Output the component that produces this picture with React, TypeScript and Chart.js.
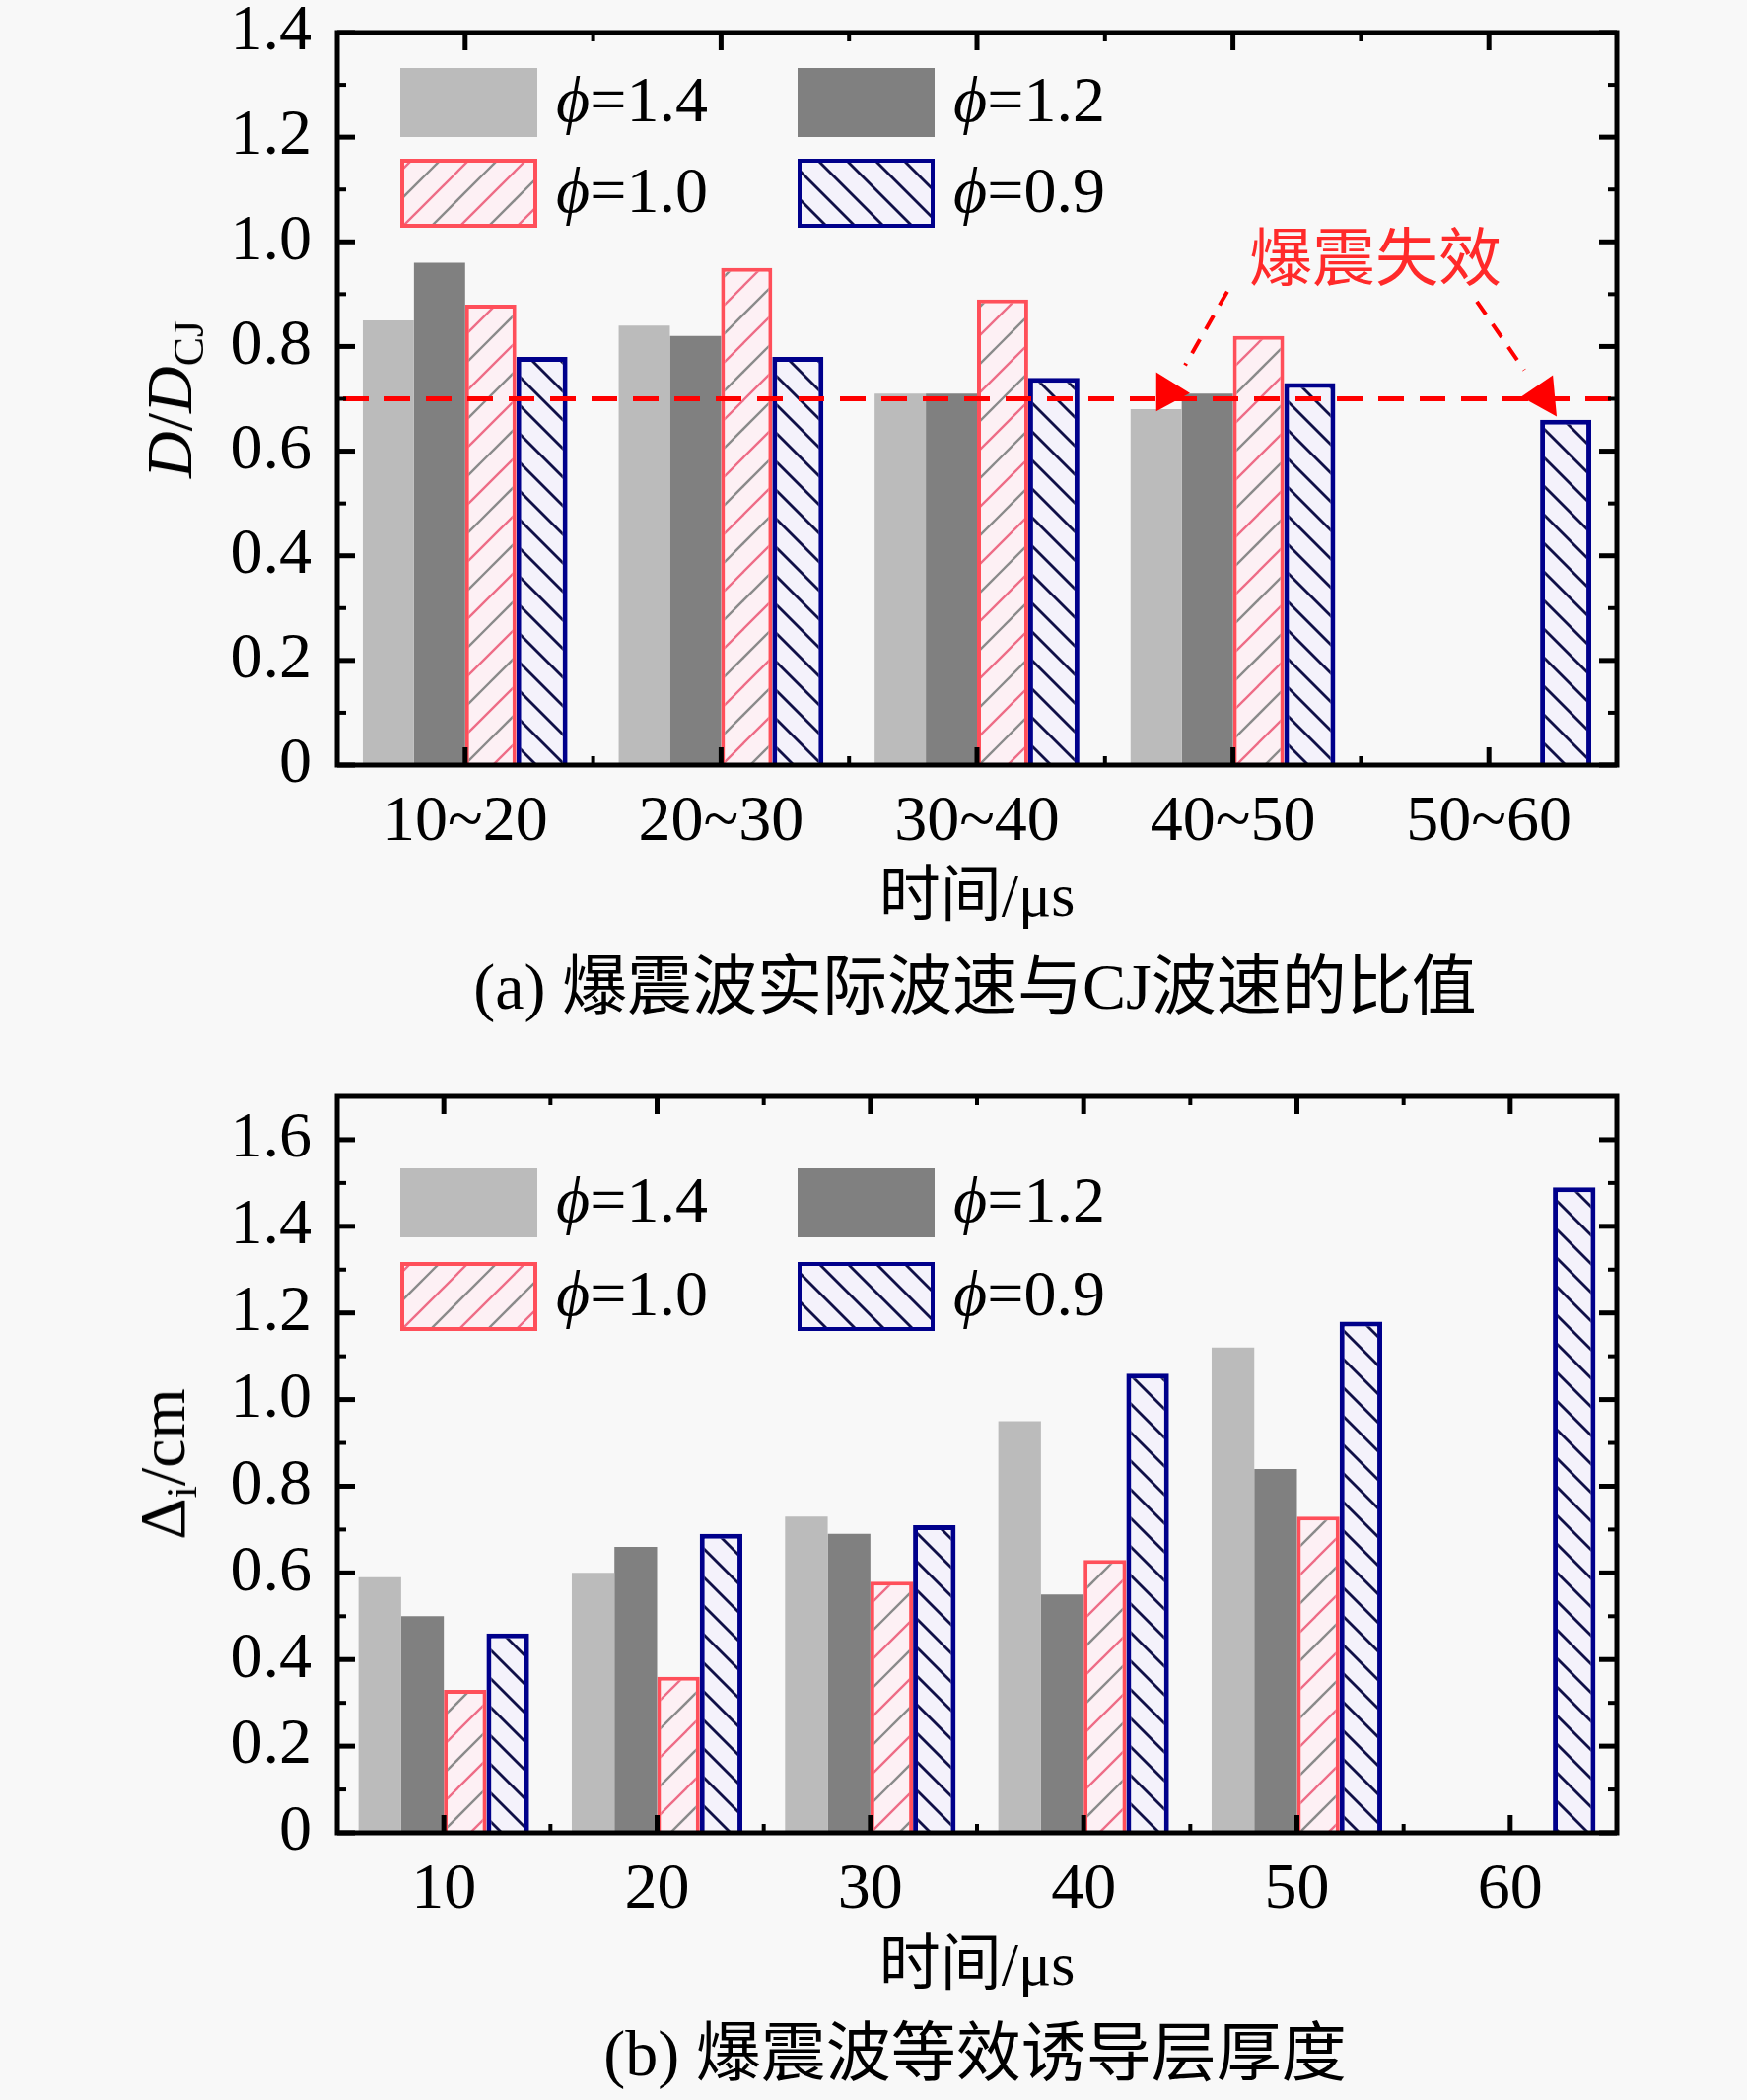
import { useEffect, useRef } from 'react'
import Chart from 'chart.js/auto'

// (a) ratio of detonation wave speed to CJ speed, per time window
const RANGE_LABELS = ['10~20', '20~30', '30~40', '40~50', '50~60']
const RATIO_PHI_14 = [0.85, 0.84, 0.71, 0.68, null]
const RATIO_PHI_12 = [0.96, 0.82, 0.71, 0.71, null]
const RATIO_PHI_10 = [0.88, 0.95, 0.89, 0.82, null]
const RATIO_PHI_09 = [0.78, 0.78, 0.74, 0.73, 0.66]
const RATIO_TICKS = [0, 0.2, 0.4, 0.6, 0.8, 1.0, 1.2, 1.4]
const RATIO_LIMIT = 0.7

// (b) equivalent induction layer thickness
const TIME_LABELS = ['10', '20', '30', '40', '50', '60']
const THICK_PHI_14 = [0.59, 0.6, 0.73, 0.95, 1.12, null]
const THICK_PHI_12 = [0.5, 0.66, 0.69, 0.55, 0.84, null]
const THICK_PHI_10 = [0.33, 0.36, 0.58, 0.63, 0.73, null]
const THICK_PHI_09 = [0.46, 0.69, 0.71, 1.06, 1.18, 1.49]
const THICK_TICKS = [0, 0.2, 0.4, 0.6, 0.8, 1.0, 1.2, 1.4, 1.6]

const PHI_LABELS = ['1.4', '1.2', '1.0', '0.9']

// failure annotation, in (category index, value) coordinates
const FAIL_TEXT = '爆震失效'
const FAIL_TEXT_AT = [3.556, 0.973]
const FAIL_ARROW_LINES = [
  [[2.978, 0.905], [2.813, 0.764]],
  [[3.953, 0.886], [4.138, 0.755]],
]
const FAIL_ARROW_HEADS = [
  [[2.7, 0.751], [2.832, 0.711], [2.7, 0.676]],
  [[4.25, 0.745], [4.126, 0.704], [4.265, 0.666]],
]

const SERIF = '"Liberation Serif", "Noto Sans CJK SC", serif'
const BG = '#f8f8f8'
const LIGHT = '#bbbbbb'
const DARK = '#808080'
const RED = '#ff4f5a'
const NAVY = '#00008b'

Chart.defaults.font.family = '"Liberation Serif", serif'
Chart.defaults.color = '#000'

function makeHatch(dir: number, bg: string, colors: string[], lw: number) {
  const step = 29
  const n = colors.length
  const size = step * n
  const c = document.createElement('canvas')
  c.width = size
  c.height = size
  const g = c.getContext('2d')!
  g.fillStyle = bg
  g.fillRect(0, 0, size, size)
  g.lineWidth = lw
  for (let k = -2 * n; k <= 3 * n; k++) {
    g.strokeStyle = colors[((k % n) + n) % n]
    const c0 = k * step
    g.beginPath()
    if (dir > 0) {
      g.moveTo(-size, c0 + size)
      g.lineTo(2 * size, c0 - 2 * size)
    } else {
      g.moveTo(-size, -size - c0)
      g.lineTo(2 * size, 2 * size - c0)
    }
    g.stroke()
  }
  return g.createPattern(c, 'repeat')!
}

const fmt = (v: any) => (Number(v) === 0 ? '0' : Number(v).toFixed(1))

function decorPlugin(cfg: any) {
  return {
    id: 'decor' + cfg.name,
    afterDatasetsDraw(chart: any) {
      const { ctx, chartArea: a, scales } = chart
      const x = scales.x
      const y = scales.y
      const px = (p: number[]) => [x.getPixelForValue(p[0]), y.getPixelForValue(p[1])]
      ctx.save()

      // threshold line and failure arrows
      if (cfg.limit != null) {
        const ly = y.getPixelForValue(cfg.limit)
        ctx.strokeStyle = '#ff0000'
        ctx.lineWidth = 5
        ctx.setLineDash([26, 16])
        ctx.beginPath()
        ctx.moveTo(a.left + 6, ly)
        ctx.lineTo(a.right - 4, ly)
        ctx.stroke()

        ctx.lineWidth = 4
        ctx.setLineDash([16, 12])
        FAIL_ARROW_LINES.forEach((ln) => {
          const p0 = px(ln[0])
          const p1 = px(ln[1])
          ctx.beginPath()
          ctx.moveTo(p0[0], p0[1])
          ctx.lineTo(p1[0], p1[1])
          ctx.stroke()
        })
        ctx.setLineDash([])
        ctx.fillStyle = '#ff0000'
        FAIL_ARROW_HEADS.forEach((hd) => {
          ctx.beginPath()
          hd.forEach((p, i) => {
            const q = px(p)
            if (i === 0) ctx.moveTo(q[0], q[1])
            else ctx.lineTo(q[0], q[1])
          })
          ctx.closePath()
          ctx.fill()
        })
        const t = px(FAIL_TEXT_AT)
        ctx.font = '64px "Noto Sans CJK SC"'
        ctx.fillStyle = '#ff2a2a'
        ctx.textAlign = 'center'
        ctx.textBaseline = 'middle'
        ctx.fillText(FAIL_TEXT, t[0], t[1])
      }

      // legend
      const swW = 139
      const swH = 70
      const cols = [64, 467]
      const rows = [cfg.legendTop, cfg.legendTop + cfg.legendGap]
      cfg.styles.forEach((st: any, i: number) => {
        const sx = a.left + cols[i % 2]
        const sy = a.top + rows[Math.floor(i / 2)]
        ctx.fillStyle = st.backgroundColor
        ctx.fillRect(sx, sy, swW, swH)
        if (st.borderWidth) {
          ctx.strokeStyle = st.borderColor
          ctx.lineWidth = 4
          ctx.strokeRect(sx + 2, sy + 2, swW - 4, swH - 4)
        }
        const tx = sx + 158
        const ty = sy + swH / 2 + 2
        ctx.fillStyle = '#000'
        ctx.textAlign = 'left'
        ctx.textBaseline = 'middle'
        ctx.font = 'italic 66px "Liberation Serif"'
        ctx.fillText('ϕ', tx, ty)
        const w = ctx.measureText('ϕ').width
        ctx.font = '66px "Liberation Serif"'
        ctx.fillText('=' + PHI_LABELS[i], tx + w, ty)
      })

      // inward ticks on all four sides
      ctx.strokeStyle = '#000'
      const tick = (x0: number, y0: number, x1: number, y1: number, lw: number) => {
        ctx.lineWidth = lw
        ctx.beginPath()
        ctx.moveTo(x0, y0)
        ctx.lineTo(x1, y1)
        ctx.stroke()
      }
      const n = chart.data.labels.length
      for (let i = 0; i < n; i++) {
        const cx = x.getPixelForValue(i)
        tick(cx, a.bottom, cx, a.bottom - 18, 5)
        tick(cx, a.top, cx, a.top + 18, 5)
        if (i > 0) {
          const bx = (x.getPixelForValue(i - 1) + cx) / 2
          tick(bx, a.bottom, bx, a.bottom - 9, 4)
          tick(bx, a.top, bx, a.top + 9, 4)
        }
      }
      cfg.ticks.forEach((v: number, i: number) => {
        const ty = y.getPixelForValue(v)
        tick(a.left, ty, a.left + 18, ty, 5)
        tick(a.right, ty, a.right - 18, ty, 5)
        if (i > 0) {
          const my = y.getPixelForValue((v + cfg.ticks[i - 1]) / 2)
          tick(a.left, my, a.left + 9, my, 4)
          tick(a.right, my, a.right - 9, my, 4)
        }
      })
      ctx.lineWidth = 5
      ctx.strokeRect(a.left, a.top, a.right - a.left, a.bottom - a.top)
      ctx.restore()
    },
  }
}

function makeChart(canvas: HTMLCanvasElement, cfg: any) {
  const datasets = cfg.series.map((data: any, i: number) => ({
    label: 'ϕ=' + PHI_LABELS[i],
    data,
    ...cfg.styles[i],
  }))
  return new Chart(canvas, {
    type: 'bar',
    data: { labels: cfg.labels, datasets },
    options: {
      responsive: false,
      animation: false,
      layout: { padding: { left: 0, right: 132, top: cfg.padTop, bottom: 0 } },
      datasets: { bar: { categoryPercentage: 0.8, barPercentage: 1 } },
      plugins: { legend: { display: false }, tooltip: { enabled: false } },
      scales: {
        x: {
          grid: { display: false },
          border: { display: false },
          ticks: { font: { size: 66 }, color: '#000', padding: cfg.xPad, maxRotation: 0, autoSkip: false },
          afterFit: (s: any) => {
            s.height = cfg.xHeight
            s.paddingLeft = 0
            s.paddingRight = 0
          },
        },
        y: {
          min: 0,
          max: cfg.max,
          grid: { display: false },
          border: { display: false },
          afterBuildTicks: (s: any) => {
            s.ticks = cfg.ticks.map((v: number) => ({ value: v }))
          },
          ticks: { font: { size: 66 }, color: '#000', padding: 18, autoSkip: false, callback: fmt },
          afterFit: (s: any) => {
            s.width = 342
            s.paddingTop = 0
            s.paddingBottom = 0
          },
        },
      },
    } as any,
    plugins: [decorPlugin(cfg)],
  })
}

export default function App() {
  const topRef = useRef<HTMLCanvasElement>(null)
  const botRef = useRef<HTMLCanvasElement>(null)

  useEffect(() => {
    if (!topRef.current || !botRef.current) return
    const redHatch = makeHatch(1, '#fdf0f4', ['#ee6c86', '#8a8a8a'], 2.3)
    const blueHatch = makeHatch(-1, '#f4f2fb', ['#101048'], 2.8)
    const styles = [
      { backgroundColor: LIGHT, borderWidth: 0 },
      { backgroundColor: DARK, borderWidth: 0 },
      { backgroundColor: redHatch, borderColor: RED, borderWidth: 4 },
      { backgroundColor: blueHatch, borderColor: NAVY, borderWidth: 5 },
    ]
    const top = makeChart(topRef.current, {
      name: 'a',
      labels: RANGE_LABELS,
      series: [RATIO_PHI_14, RATIO_PHI_12, RATIO_PHI_10, RATIO_PHI_09],
      styles,
      ticks: RATIO_TICKS,
      max: 1.4,
      limit: RATIO_LIMIT,
      padTop: 33,
      xHeight: 84,
      xPad: 11,
      legendTop: 36,
      legendGap: 92,
    })
    const bot = makeChart(botRef.current, {
      name: 'b',
      labels: TIME_LABELS,
      series: [THICK_PHI_14, THICK_PHI_12, THICK_PHI_10, THICK_PHI_09],
      styles,
      ticks: THICK_TICKS,
      max: 1.7,
      limit: null,
      padTop: 52,
      xHeight: 81,
      xPad: 11,
      legendTop: 73,
      legendGap: 95,
    })
    return () => {
      top.destroy()
      bot.destroy()
    }
  }, [])

  const text = (x: number, y: number, size: number, extra?: any) => ({
    position: 'absolute' as const,
    left: x,
    top: y,
    transform: 'translate(-50%, -50%)',
    fontSize: size,
    lineHeight: 1,
    whiteSpace: 'nowrap' as const,
    fontFamily: SERIF,
    color: '#000',
    ...extra,
  })

  return (
    <div style={{ position: 'absolute', left: 0, top: 0, width: 1772, height: 2130, background: BG, overflow: 'hidden' }}>
      <canvas ref={topRef} width={1772} height={860} style={{ position: 'absolute', left: 0, top: 0, width: 1772, height: 860 }} />
      <canvas ref={botRef} width={1772} height={880} style={{ position: 'absolute', left: 0, top: 1060, width: 1772, height: 880 }} />

      <div style={text(172, 405, 66, { transform: 'translate(-50%, -50%) rotate(-90deg)' })}>
        <i>D</i>/<i>D</i>
        <span style={{ fontSize: 44, position: 'relative', top: 12 }}>CJ</span>
      </div>
      <div style={text(991, 908, 62)}>时间/μs</div>
      <div style={text(989, 1001, 66)}>(a) 爆震波实际波速与CJ波速的比值</div>

      <div style={text(165, 1485, 66, { transform: 'translate(-50%, -50%) rotate(-90deg)' })}>
        Δ<span style={{ fontSize: 44, position: 'relative', top: 12 }}>i</span>/cm
      </div>
      <div style={text(991, 1992, 62)}>时间/μs</div>
      <div style={text(989, 2083, 66)}>(b) 爆震波等效诱导层厚度</div>
    </div>
  )
}
